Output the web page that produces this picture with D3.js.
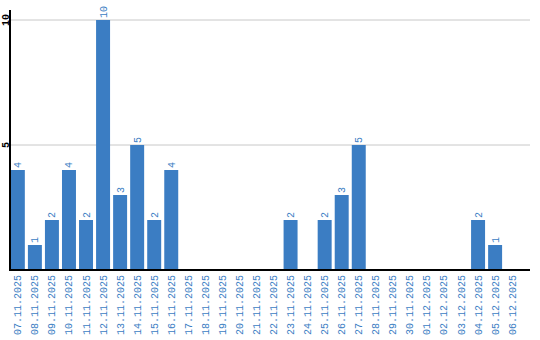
<!DOCTYPE html>
<html>
<head>
<meta charset="utf-8">
<script src="https://cdn.jsdelivr.net/npm/d3@7"></script>
<style>
  body { margin: 0; background: #fff; }
  text { font-family: "Liberation Mono", "DejaVu Sans Mono", monospace; }
</style>
</head>
<body>
<div id="chart"></div>
<script>
const dates = ['07.11.2025', '08.11.2025', '09.11.2025', '10.11.2025', '11.11.2025', '12.11.2025',
  '13.11.2025', '14.11.2025', '15.11.2025', '16.11.2025', '17.11.2025', '18.11.2025', '19.11.2025',
  '20.11.2025', '21.11.2025', '22.11.2025', '23.11.2025', '24.11.2025', '25.11.2025', '26.11.2025',
  '27.11.2025', '28.11.2025', '29.11.2025', '30.11.2025', '01.12.2025', '02.12.2025', '03.12.2025',
  '04.12.2025', '05.12.2025', '06.12.2025'];
const counts = [4, 1, 2, 4, 2, 10, 3, 5, 2, 4, 0, 0, 0, 0, 0, 0, 2, 0, 2, 3, 5, 0, 0, 0, 0, 0, 0, 2, 1, 0];
const yTicks = [5, 10];

const width = 540, height = 340;
const padLeft = 10, padRight = 530, padTop = 10, base = 270;
const blue = '#3b7dc3';

const svg = d3.select('#chart').append('svg')
  .attr('width', width)
  .attr('height', height);

const x = d3.scaleBand()
  .domain(dates)
  .range([padLeft, 520])
  .paddingInner(0.18)
  .paddingOuter(0.05);

const y = d3.scaleLinear()
  .domain([0, 10])
  .range([base, 20]);

// grid lines
svg.append('g').selectAll('line')
  .data(yTicks)
  .join('line')
  .attr('x1', padLeft).attr('x2', padRight)
  .attr('y1', d => y(d)).attr('y2', d => y(d))
  .attr('stroke', '#c8c8c8')
  .attr('stroke-width', 1);

// y tick labels, rotated
svg.append('g').selectAll('text')
  .data(yTicks)
  .join('text')
  .attr('transform', d => `translate(5,${y(d)}) rotate(-90)`)
  .attr('text-anchor', 'middle')
  .attr('dy', '0.35em')
  .style('font-size', '10px')
  .style('font-weight', 'bold')
  .attr('fill', '#000')
  .text(d => d);

// bars
svg.append('g').selectAll('rect')
  .data(counts)
  .join('rect')
  .attr('x', (d, i) => x(dates[i]))
  .attr('y', d => y(d))
  .attr('width', x.bandwidth())
  .attr('height', d => base - y(d))
  .attr('fill', blue);

// value labels
svg.append('g').selectAll('text')
  .data(counts.map((c, i) => ({c, d: dates[i]})).filter(o => o.c > 0))
  .join('text')
  .attr('transform', o => `translate(${x(o.d) + x.bandwidth() / 2},${y(o.c) - 2}) rotate(-90)`)
  .attr('dy', '0.35em')
  .style('font-size', '10px')
  .attr('fill', blue)
  .text(o => o.c);

// x labels
svg.append('g').selectAll('text')
  .data(dates)
  .join('text')
  .attr('transform', d => `translate(${x(d) + x.bandwidth() / 2},${base + 5}) rotate(-90)`)
  .attr('text-anchor', 'end')
  .attr('dy', '0.35em')
  .style('font-size', '10px')
  .attr('fill', blue)
  .text(d => d);

// axes lines
svg.append('line')
  .attr('x1', padLeft).attr('x2', padLeft)
  .attr('y1', padTop).attr('y2', base + 1)
  .attr('stroke', '#000').attr('stroke-width', 2);
svg.append('line')
  .attr('x1', padLeft).attr('x2', padRight)
  .attr('y1', base).attr('y2', base)
  .attr('stroke', '#000').attr('stroke-width', 2);
</script>
</body>
</html>
